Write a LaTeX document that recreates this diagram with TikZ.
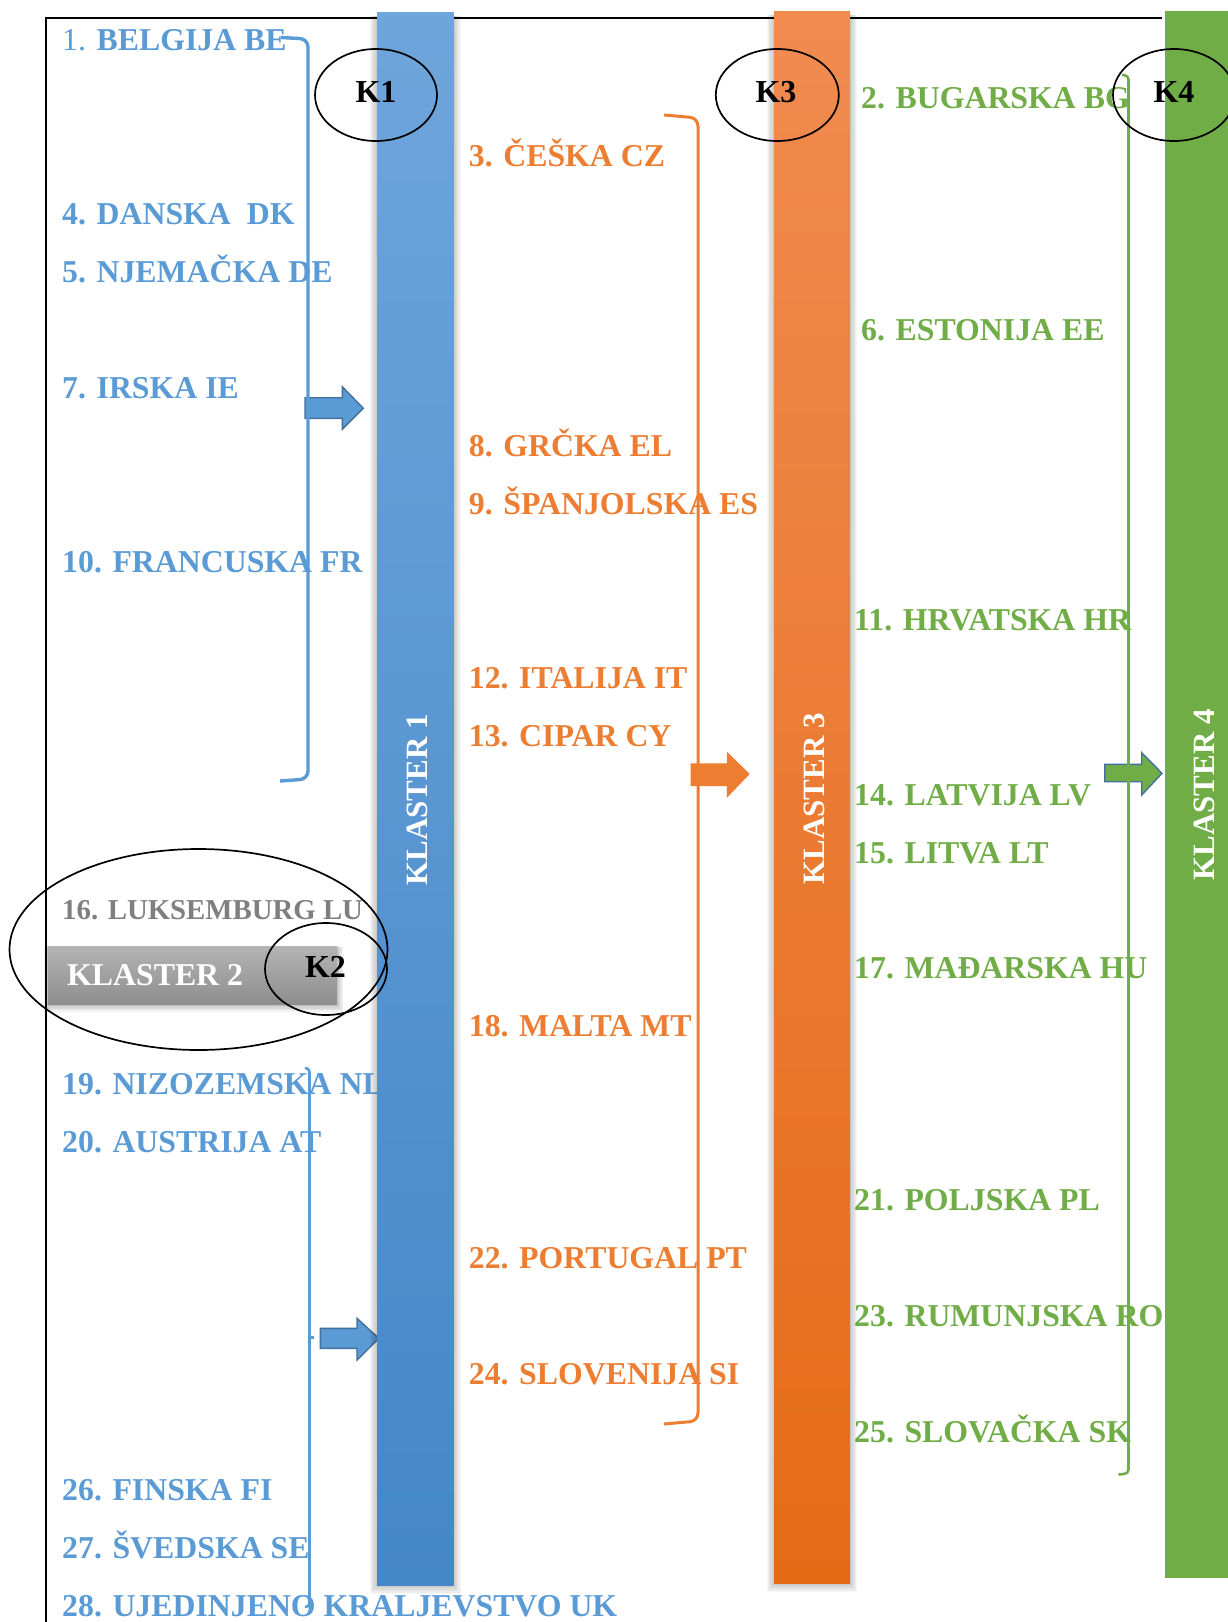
\documentclass[tikz,border=0pt]{standalone}
\usepackage{fontspec}
\setmainfont{Liberation Serif}
\usetikzlibrary{shapes.geometric}
\definecolor{cblue}{HTML}{5B9BD5}
\definecolor{corange}{HTML}{ED7D31}
\definecolor{cgreen}{HTML}{70AD47}
\definecolor{cgray}{HTML}{7F7F7F}
\definecolor{cdark}{HTML}{41719C}
\definecolor{bluetop}{HTML}{6EA5DB}
\definecolor{bluebot}{HTML}{4487C9}
\definecolor{orangetop}{HTML}{F18B50}
\definecolor{orangebot}{HTML}{E56B17}
\definecolor{graytop}{HTML}{B4B4B4}
\definecolor{graybot}{HTML}{8E8E8E}
\begin{document}
\begin{tikzpicture}[x=1pt,y=-1pt,
  cty/.style={anchor=base west,inner sep=0pt,font=\fontsize{31.8}{37}\selectfont\bfseries},
  ctblue/.style={cty,text=cblue},
  ctorange/.style={cty,text=corange},
  ctgreen/.style={cty,text=cgreen},
  ctgray/.style={cty,text=cgray,font=\fontsize{28.8}{34}\selectfont\bfseries},
  klabel/.style={inner sep=0pt,font=\fontsize{32}{38}\selectfont\bfseries,text=black},
  vlabel/.style={inner sep=0pt,rotate=90,font=\fontsize{31}{37}\selectfont\bfseries,text=white},
  kell/.style={draw=black,line width=1.7pt,ellipse,inner sep=0pt},
  brk/.style={line width=3pt,rounded corners=8pt},
  barrow/.style={line width=1.4pt,line join=miter}
]
\useasboundingbox (0,0) rectangle (1227,1622);
\fill[white] (0,0) rectangle (1227,1622);

% frame lines
\draw[black,line width=1.7pt] (45.7,1622) -- (45.7,17.7) -- (1162,17.7);

% ---- country texts ----
\node[ctblue]   (c1)  at (62,50.7)    {\textmd{1.} BELGIJA BE};
\node[ctgreen]  (c2)  at (861,108.7)  {2. BUGARSKA BG};
\node[ctorange] (c3)  at (468.7,166.7){3. ČEŠKA CZ};
\node[ctblue]   (c4)  at (62,224.7)   {4. DANSKA\ \ DK};
\node[ctblue]   (c5)  at (62,282.7)   {5. NJEMAČKA DE};
\node[ctgreen]  (c6)  at (861,340.7)  {6. ESTONIJA EE};
\node[ctblue]   (c7)  at (62,398.7)   {7. IRSKA IE};
\node[ctorange] (c8)  at (468.7,456.7){8. GRČKA EL};
\node[ctorange] (c9)  at (468.7,514.7){9. ŠPANJOLSKA ES};
\node[ctblue]   (c10) at (62,572.7)   {10. FRANCUSKA FR};
\node[ctgreen]  (c11) at (854,630.7)  {11. HRVATSKA HR};
\node[ctorange] (c12) at (468.7,688.7){12. ITALIJA IT};
\node[ctorange] (c13) at (468.7,746.7){13. CIPAR CY};
\node[ctgreen]  (c14) at (854,805.5)  {14. LATVIJA LV};
\node[ctgreen]  (c15) at (854,863.2)  {15. LITVA LT};
\node[ctgray]   (c16) at (62,919.5)   {16. LUKSEMBURG LU};
\node[ctgreen]  (c17) at (854,978.7)  {17. MAĐARSKA HU};
\node[ctorange] (c18) at (468.7,1036.7){18. MALTA MT};
\node[ctblue]   (c19) at (62,1094)    {19. NIZOZEMSKA NL};
\node[ctblue]   (c20) at (62,1152.7)  {20. AUSTRIJA AT};
\node[ctgreen]  (c21) at (854,1210.7) {21. POLJSKA PL};
\node[ctorange] (c22) at (468.7,1268.7){22. PORTUGAL PT};
\node[ctgreen]  (c23) at (854,1326.7) {23. RUMUNJSKA RO};
\node[ctorange] (c24) at (468.7,1384.7){24. SLOVENIJA SI};
\node[ctgreen]  (c25) at (854,1442.7) {25. SLOVAČKA SK};
\node[ctblue]   (c26) at (62,1500.7)  {26. FINSKA FI};
\node[ctblue]   (c27) at (62,1558.7)  {27. ŠVEDSKA SE};
\node[ctblue]   (c28) at (62,1616.7)  {28. UJEDINJENO KRALJEVSTVO UK};

% ---- block arrows ----
\draw[barrow,fill=cblue,draw=cdark] (305,397.7) -- (342.3,397.7) -- (342.3,386.7) -- (363.3,408.3) -- (342.3,429.3) -- (342.3,418.3) -- (305,418.3) -- cycle;
\draw[barrow,fill=cblue,draw=cdark] (320.4,1328.3) -- (357,1328.3) -- (357,1318.3) -- (378.8,1338.3) -- (357,1360) -- (357,1348.3) -- (320.4,1348.3) -- cycle;
\fill[corange] (690.7,763.3) -- (726.9,763.3) -- (726.9,751.7) -- (749.7,774) -- (726.9,797.7) -- (726.9,786) -- (690.7,786) -- cycle;
\draw[barrow,fill=cgreen,draw=cdark] (1104.8,764.3) -- (1141.7,764.3) -- (1141.7,752.7) -- (1162,773.3) -- (1141.7,795) -- (1141.7,781.7) -- (1104.8,781.7) -- cycle;

% ---- brackets ----
\draw[brk,cblue,line width=3.4pt] (281,37.5) -- (308,39) -- (308,779) -- (280,781);
\draw[brk,cblue,line width=2.6pt,rounded corners=3pt] (305,1068) -- (309.5,1069) -- (309.5,1606) -- (305,1607);
\draw[cblue,line width=2.2pt] (309.5,1337.5) -- (313.5,1337.5);
\draw[brk,corange] (664,115) -- (698,118) -- (698,1421) -- (664,1424);
\draw[brk,cgreen,line width=2.6pt,rounded corners=4pt] (1122,75) -- (1128.5,75.5) -- (1128.5,1473.5) -- (1118.5,1474.5);

% ---- bars with soft shadows ----
\foreach \i in {1,...,6}{
  \fill[black,opacity=0.035] (377-\i*1.2,16) rectangle (453.5+\i*1.2,1585+\i*1.5);
  \fill[black,opacity=0.035] (774-\i*1.2,15) rectangle (850+\i*1.2,1583.3+\i*1.5);
}
\shade[top color=bluetop,bottom color=bluebot] (377,12) rectangle (453.5,1585);
\shade[top color=orangetop,bottom color=orangebot] (774,11) rectangle (850,1583.3);
\fill[cgreen] (1165,11) rectangle (1235,1577.7);

% ---- KLASTER 2 box ----
\foreach \i in {1,...,5}{
  \fill[black,opacity=0.05] (48-\i*0.8,946+\i*0.2) rectangle (336.7+\i*1.2,1004+\i*1.6);
}
\shade[top color=graytop,bottom color=graybot] (48,946) rectangle (336.7,1004);
\node[cty,text=white] (k2text) at (67,985.7) {KLASTER 2};

% ---- vertical labels ----
\node[vlabel] (kl1) at (417.5,800) {KLASTER 1};
\node[vlabel] (kl3) at (814,799) {KLASTER 3};
\node[vlabel] (kl4) at (1204,795) {KLASTER 4};

% ---- ellipses ----
\node[kell,minimum width=122pt,minimum height=92pt] (e1) at (376,95) {};
\node[kell,minimum width=123pt,minimum height=92pt] (e3) at (777.3,95) {};
\node[kell,minimum width=122pt,minimum height=92pt] (e4) at (1174,95) {};
\node[kell,minimum width=378pt,minimum height=201pt] (elu) at (198.5,949.5) {};
\node[kell,minimum width=122pt,minimum height=92pt] (e2) at (326,969) {};
\node[klabel] (k1) at (376,92) {K1};
\node[klabel] (k3) at (776,92) {K3};
\node[klabel] (k4) at (1174,92) {K4};
\node[klabel] (k2) at (325.5,966.7) {K2};
\end{tikzpicture}
\end{document}
